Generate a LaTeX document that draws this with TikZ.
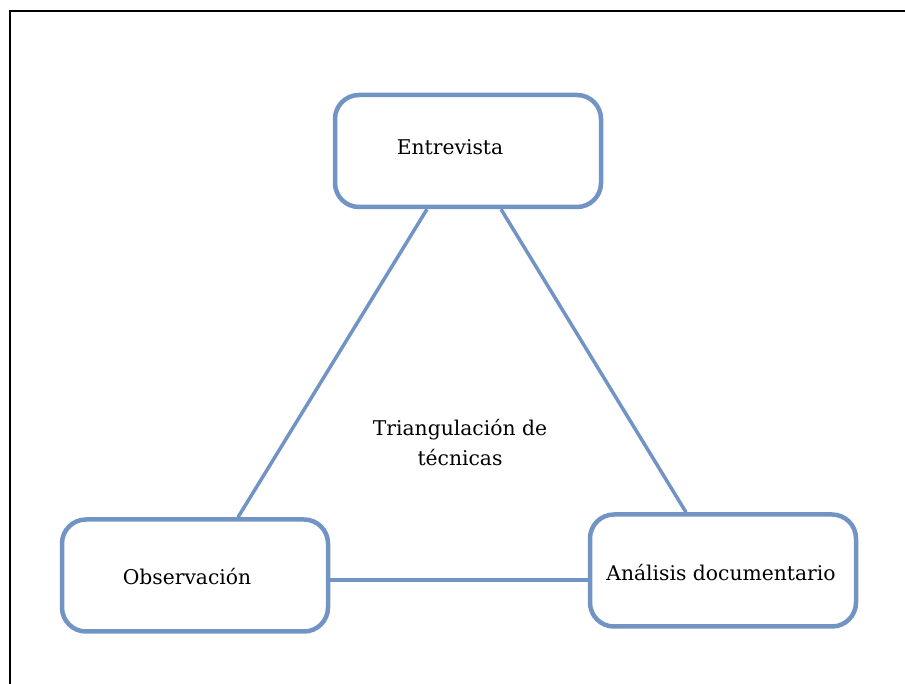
\documentclass[tikz,border=0pt]{standalone}
\usepackage{fontspec}
\setmainfont{DejaVu Serif}
\definecolor{boxblue}{RGB}{114,148,196}
\begin{document}
\begin{tikzpicture}[x=1pt,y=1pt,
  box/.style={draw=boxblue, line width=4.5pt, rounded corners=24pt, minimum width=266pt, minimum height=112pt, inner sep=0pt},
  lbl/.style={font=\fontsize{20.3}{30}\selectfont, text=black, align=center},
  link/.style={draw=boxblue, line width=3.5pt}]
\useasboundingbox (0,0) rectangle (905,684);
% frame
\draw[line width=2.5pt, black] (10,0) -- (10,673) -- (905,673);
% boxes
\node[box] (e) at (468,533) {};
\node[box] (o) at (195,108.5) {};
\node[box] (a) at (723,113.5) {};
% labels
\node[lbl] (et) at (450,537) {Entrevista};
\node[lbl] (ot) at (187,107) {Observación};
\node[lbl] (at) at (721,111) {Análisis documentario};
\node[lbl] (ct) at (460,241) {Triangulación de\\técnicas};
% connectors
\draw[link] ([xshift=-41pt]e.south) -- ([xshift=43pt]o.north);
\draw[link] ([xshift=33pt]e.south) -- ([xshift=-37pt]a.north);
\draw[link] ([yshift=-4.5pt]o.east) -- ([yshift=-9.5pt]a.west);
\end{tikzpicture}
\end{document}
